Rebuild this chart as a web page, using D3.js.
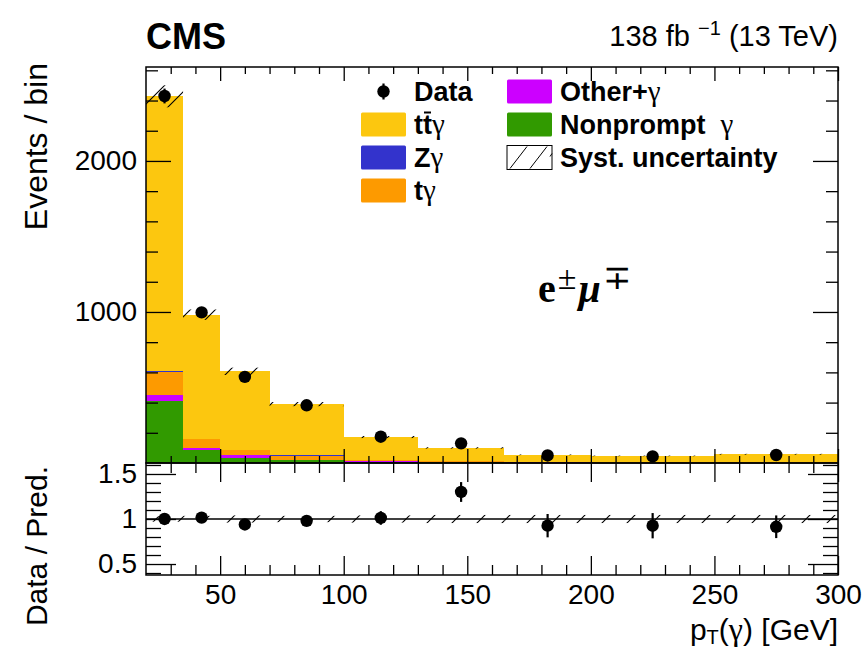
<!DOCTYPE html>
<html><head><meta charset="utf-8">
<script src="https://cdn.jsdelivr.net/npm/d3@7"></script>
<style>
body{margin:0;background:#fff;}
svg{display:block;}
</style>
</head><body>
<svg id="c" width="867" height="648" font-family="Liberation Sans, Arial, Helvetica, sans-serif"></svg>
<script>
// ---------------- data ----------------
const binEdges   = [20, 35, 50, 70, 100, 130, 165, 200, 250, 300];
const dataValues = [2430, 997, 570, 382, 174, 130, 50, 43.5, 53];
const dataErrors = [49, 32, 24, 20, 13, 11, 7, 6.6, 7.3];
const ttgamma    = [1820, 820, 522, 340, 150, 85, 45.5, 40.5, 50.5];
const zgamma     = [7, 4, 2, 2, 1, 1, 0.5, 0.5, 0.5];
const tgamma     = [154, 60, 33, 25, 11, 8, 4, 3, 4];
const otherGamma = [38, 11, 16, 6, 3, 2, 1, 1, 1];
const nonprompt  = [409, 87, 34, 17, 7, 4, 3, 2, 2];
const systRel    = [0.03, 0.035, 0.04, 0.035, 0.04, 0.045, 0.045, 0.045, 0.045];
const xMajorTicks = [50, 100, 150, 200, 250, 300];
const yMajorTicks = [1000, 2000];
const rMajorTicks = [0.5, 1, 1.5];
const rTickLabels = ["0.5", "1", "1.5"];

// ---------------- layout ----------------
const svg = d3.select("#c");
const L = 146, R = 838, T1 = 67, B1 = 463, T2 = 463, B2 = 575;
const FONT = "Liberation Sans, Arial, Helvetica, sans-serif";
const SERIF = "Liberation Serif, Times New Roman, serif";

const x  = d3.scaleLinear().domain([20, 300]).range([L, R]);
const y  = d3.scaleLinear().domain([0, 2622]).range([B1, T1]);
const yr = d3.scaleLinear().domain([0.378, 1.622]).range([B2, T2]);

const keys = ["nonprompt", "other", "tg", "zg", "ttg"];
const colors = {nonprompt: "#319a00", other: "#cc00ff", tg: "#fd9a00", zg: "#3333cc", ttg: "#fcc70f"};

const bins = dataValues.map((v, i) => ({
  lo: binEdges[i], hi: binEdges[i + 1], data: v, err: dataErrors[i],
  nonprompt: nonprompt[i], other: otherGamma[i], tg: tgamma[i], zg: zgamma[i], ttg: ttgamma[i],
  syst: systRel[i]
}));
bins.forEach(b => { b.total = keys.reduce((s, k) => s + b[k], 0); b.mid = (b.lo + b.hi) / 2; });

// hatch pattern
const defs = svg.append("defs");
defs.append("pattern").attr("id", "hatch").attr("patternUnits", "userSpaceOnUse")
  .attr("width", 25).attr("height", 25)
  .append("path").attr("d", "M0,25 L25,0 M-5,5 L5,-5 M20,30 L30,20")
  .attr("stroke", "#000").attr("stroke-width", 1.1).attr("fill", "none");

// ---------------- upper panel: stack ----------------
const series = d3.stack().keys(keys)(bins);
const gStack = svg.append("g");
series.forEach(s => {
  gStack.selectAll(null).data(s).enter().append("rect")
    .attr("x", d => x(d.data.lo)).attr("width", d => x(d.data.hi) - x(d.data.lo))
    .attr("y", d => y(d[1])).attr("height", d => Math.max(0, y(d[0]) - y(d[1])))
    .attr("fill", colors[s.key]).attr("shape-rendering", "crispEdges");
});
// syst band
svg.append("g").selectAll("rect").data(bins).enter().append("rect")
  .attr("x", d => x(d.lo)).attr("width", d => x(d.hi) - x(d.lo))
  .attr("y", d => y(d.total * (1 + d.syst)))
  .attr("height", d => y(d.total * (1 - d.syst)) - y(d.total * (1 + d.syst)))
  .attr("fill", "url(#hatch)");

// ---------------- ratio panel ----------------
svg.append("g").selectAll("rect").data(bins).enter().append("rect")
  .attr("x", d => x(d.lo)).attr("width", d => x(d.hi) - x(d.lo))
  .attr("y", d => yr(1 + d.syst))
  .attr("height", d => yr(1 - d.syst) - yr(1 + d.syst))
  .attr("fill", "url(#hatch)");
svg.append("line").attr("x1", L).attr("x2", R).attr("y1", yr(1)).attr("y2", yr(1))
  .attr("stroke", "#000").attr("stroke-width", 1.3);

// ---------------- axes ----------------
function drawAxis(orient, scale, tx, ty, values, size, fmt, pad) {
  const mk = {bottom: d3.axisBottom, top: d3.axisTop, left: d3.axisLeft, right: d3.axisRight}[orient];
  const gen = mk(scale).tickValues(values).tickSizeInner(size).tickSizeOuter(0)
    .tickPadding(pad || 0).tickFormat(fmt || (() => ""));
  const g = svg.append("g").attr("transform", `translate(${tx},${ty})`).call(gen);
  g.attr("font-family", FONT).attr("font-size", 28);
  g.select(".domain").remove();
  g.selectAll("line").attr("stroke", "#000").attr("stroke-width", 1.3);
  g.selectAll("text").attr("fill", "#000");
  return g;
}
const xMinor = d3.range(30, 300, 10).filter(v => v % 50 !== 0);
const yMinor = d3.range(200, 2622, 200).filter(v => v % 1000 !== 0);
const rMinor = [0.4, 0.6, 0.7, 0.8, 0.9, 1.1, 1.2, 1.3, 1.4, 1.6];

// upper
drawAxis("bottom", x, 0, B1, xMajorTicks, -14);
drawAxis("bottom", x, 0, B1, xMinor, -7);
drawAxis("top", x, 0, T1, xMajorTicks, -14);
drawAxis("top", x, 0, T1, xMinor, -7);
drawAxis("left", y, L, 0, yMajorTicks, -25, d3.format("d"), 9);
drawAxis("left", y, L, 0, yMinor, -12);
drawAxis("right", y, R, 0, yMajorTicks, -25);
drawAxis("right", y, R, 0, yMinor, -12);
// ratio
drawAxis("bottom", x, 0, B2, xMajorTicks, -19, d3.format("d"), 9);
drawAxis("bottom", x, 0, B2, xMinor, -10);
drawAxis("top", x, 0, T2, xMajorTicks, -19);
drawAxis("top", x, 0, T2, xMinor, -10);
drawAxis("left", yr, L, 0, rMajorTicks, -30, (d, i) => rTickLabels[i], 9);
drawAxis("left", yr, L, 0, rMinor, -15);
drawAxis("right", yr, R, 0, rMajorTicks, -30);
drawAxis("right", yr, R, 0, rMinor, -15);

// frames
svg.append("rect").attr("x", L).attr("y", T1).attr("width", R - L).attr("height", B1 - T1)
  .attr("fill", "none").attr("stroke", "#000").attr("stroke-width", 1.5);
svg.append("rect").attr("x", L).attr("y", T2).attr("width", R - L).attr("height", B2 - T2)
  .attr("fill", "none").attr("stroke", "#000").attr("stroke-width", 1.5);

// ---------------- data points ----------------
const gData = svg.append("g");
gData.selectAll("line").data(bins).enter().append("line")
  .attr("x1", d => x(d.mid)).attr("x2", d => x(d.mid))
  .attr("y1", d => y(d.data + d.err)).attr("y2", d => y(d.data - d.err))
  .attr("stroke", "#000").attr("stroke-width", 2.2);
gData.selectAll("circle").data(bins).enter().append("circle")
  .attr("cx", d => x(d.mid)).attr("cy", d => y(d.data)).attr("r", 6.2).attr("fill", "#000");

const gRatio = svg.append("g");
gRatio.selectAll("line").data(bins).enter().append("line")
  .attr("x1", d => x(d.mid)).attr("x2", d => x(d.mid))
  .attr("y1", d => yr((d.data + d.err) / d.total)).attr("y2", d => yr((d.data - d.err) / d.total))
  .attr("stroke", "#000").attr("stroke-width", 2.2);
gRatio.selectAll("circle").data(bins).enter().append("circle")
  .attr("cx", d => x(d.mid)).attr("cy", d => yr(d.data / d.total)).attr("r", 6.2).attr("fill", "#000");

// ---------------- texts ----------------
svg.append("text").attr("x", L).attr("y", 49).attr("font-size", 36).attr("font-weight", "bold")
  .attr("font-family", FONT).text("CMS");

const lumi = svg.append("text").attr("x", R).attr("y", 46).attr("text-anchor", "end")
  .attr("font-size", 29).attr("font-family", FONT);
lumi.append("tspan").text("138 fb\u00a0");
lumi.append("tspan").attr("font-size", 20).attr("dy", -11).text("\u22121");
lumi.append("tspan").attr("dy", 11).text("\u00a0(13 TeV)");

svg.append("text").attr("transform", `translate(47,${T1 - 4}) rotate(-90)`).attr("text-anchor", "end")
  .attr("font-size", 32).attr("font-family", FONT).text("Events / bin");
svg.append("text").attr("transform", `translate(47,${T2 + 3}) rotate(-90)`).attr("text-anchor", "end")
  .attr("font-size", 30).attr("font-family", FONT).text("Data / Pred.");

const xt = svg.append("text").attr("x", R).attr("y", 640).attr("text-anchor", "end")
  .attr("font-size", 30).attr("font-family", FONT);
xt.append("tspan").text("p");
xt.append("tspan").attr("font-size", 20).attr("dy", 4).text("T");
xt.append("tspan").attr("dy", -4).text("(");
xt.append("tspan").attr("font-family", SERIF).attr("font-size", 32).text("\u03b3");
xt.append("tspan").text(") [GeV]");

// channel label
const ch = svg.append("text").attr("x", 538).attr("y", 302).attr("font-family", SERIF)
  .attr("font-weight", "bold").attr("font-size", 40);
ch.append("tspan").text("e");
ch.append("tspan").attr("font-size", 34).attr("dy", -13).attr("dx", 2).attr("font-weight", "normal").text("\u00b1");
ch.append("tspan").attr("dy", 13).attr("dx", 2).attr("font-style", "italic").text("\u03bc");
ch.append("tspan").attr("font-size", 34).attr("dy", -13).attr("dx", 2).attr("font-weight", "normal").text("\u2213");

// ---------------- legend ----------------
const legendLabels = {data: "Data", ttg: "tt\u03b3", zg: "Z\u03b3", tg: "t\u03b3", other: "Other+\u03b3", nonprompt: "Nonprompt\u00a0\u00a0\u03b3", syst: "Syst. uncertainty"};
const legendItems = [
  {key: "data", col: 0, row: 0}, {key: "ttg", col: 0, row: 1}, {key: "zg", col: 0, row: 2}, {key: "tg", col: 0, row: 3},
  {key: "other", col: 1, row: 0}, {key: "nonprompt", col: 1, row: 1}, {key: "syst", col: 1, row: 2}
];
const colX = [361, 507], rowY0 = 91.5, rowH = 33, boxW = 45, boxH = 24, textOff = 53;
const gLeg = svg.append("g");
legendItems.forEach(it => {
  const bx = colX[it.col], cy = rowY0 + it.row * rowH;
  if (it.key === "data") {
    gLeg.append("line").attr("x1", bx + boxW / 2).attr("x2", bx + boxW / 2).attr("y1", cy - 8).attr("y2", cy + 8)
      .attr("stroke", "#000").attr("stroke-width", 2.2);
    gLeg.append("circle").attr("cx", bx + boxW / 2).attr("cy", cy).attr("r", 6.2);
  } else if (it.key === "syst") {
    gLeg.append("rect").attr("x", bx).attr("y", cy - boxH / 2).attr("width", boxW).attr("height", boxH)
      .attr("fill", "#fff").attr("stroke", "#000").attr("stroke-width", 1);
    gLeg.append("path").attr("d", `M${bx + 3},${cy + 11} L${bx + 20},${cy - 11} M${bx + 23},${cy + 11} L${bx + 40},${cy - 11} M${bx + 43},${cy - 1} L${bx + 45},${cy - 4}`)
      .attr("stroke", "#000").attr("stroke-width", 1);
  } else {
    gLeg.append("rect").attr("x", bx).attr("y", cy - boxH / 2).attr("width", boxW).attr("height", boxH)
      .attr("fill", colors[it.key]).attr("rx", 1.5);
  }
  const label = legendLabels[it.key];
  const t = gLeg.append("text").attr("x", bx + textOff).attr("y", cy + 9.5).attr("font-size", 27)
    .attr("font-weight", "bold").attr("font-family", FONT);
  label.split(/(\u03b3)/).forEach(part => {
    if (!part) return;
    const ts = t.append("tspan").text(part);
    if (part === "\u03b3") ts.attr("font-family", SERIF).attr("font-weight", "normal").attr("font-size", 29);
  });
  if (it.key === "ttg") {
    const n = t.node();
    const p0 = n.getStartPositionOfChar(1), p1 = n.getEndPositionOfChar(1);
    gLeg.append("line").attr("x1", p0.x + 1).attr("x2", p1.x - 1).attr("y1", cy - 12).attr("y2", cy - 12)
      .attr("stroke", "#000").attr("stroke-width", 2);
  }
});
</script>
</body></html>
